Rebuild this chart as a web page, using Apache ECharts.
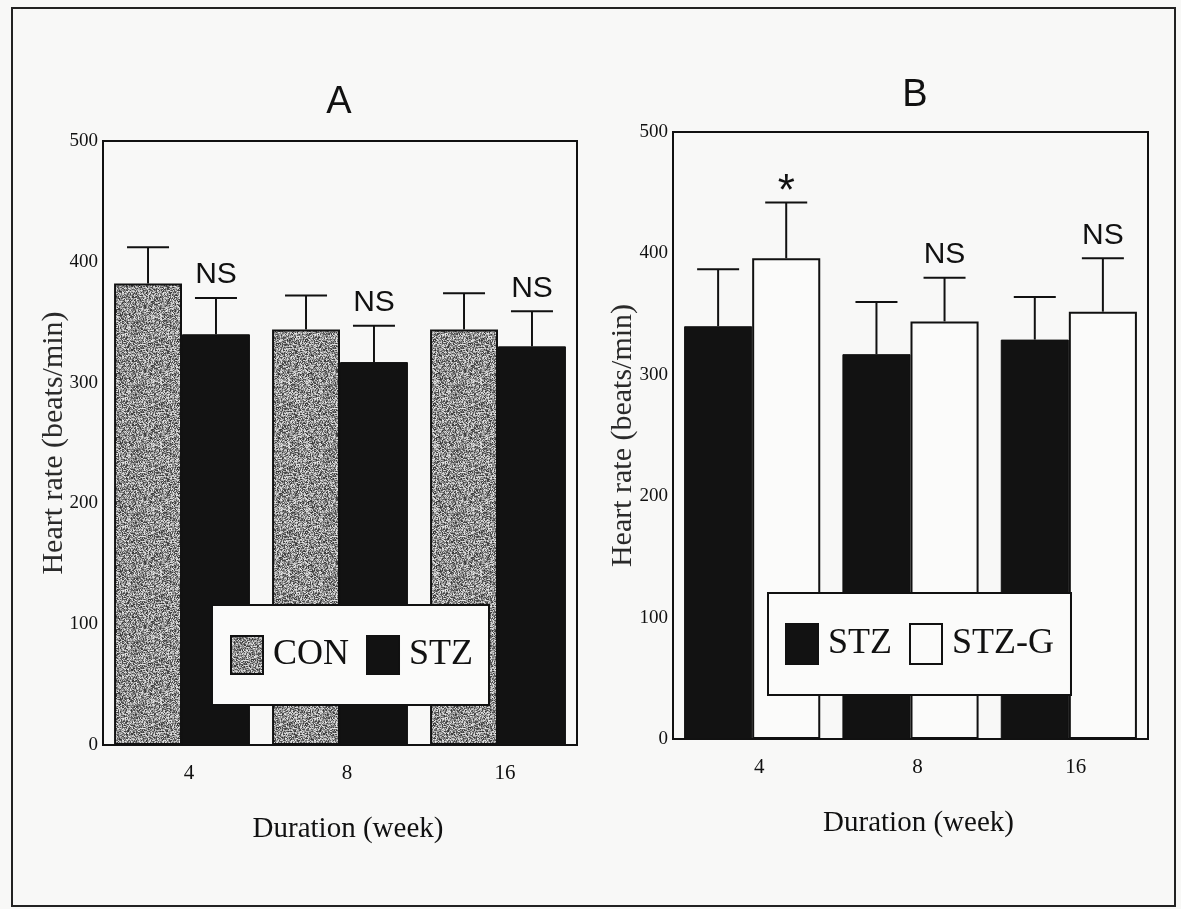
<!DOCTYPE html>
<html>
<head>
<meta charset="utf-8">
<script src="https://cdn.jsdelivr.net/npm/echarts@6/dist/echarts.min.js"></script>
<style>
html,body{margin:0;padding:0;background:#f8f8f7;}
#chart{width:1181px;height:909px;}
</style>
</head>
<body>
<div id="chart"></div>
<script>
// ---------- data ----------
const categories = ['4', '8', '16'];
// Panel A
const conA = [382, 344, 344];
const conA_sd = [30, 28, 30];
const stzA = [340, 317, 330];
const stzA_sd = [30, 30, 29];
const sigA_con = ['', '', ''];
const sigA_stz = ['NS', 'NS', 'NS'];
// Panel B
const stzB = [340, 317, 329];
const stzB_sd = [47, 43, 35];
const stzgB = [396, 344, 352];
const stzgB_sd = [46, 36, 44];
const sigB_stz = ['', '', ''];
const sigB_stzg = ['*', 'NS', 'NS'];
const yMin = 0, yMax = 500, yStep = 100;

// ---------- styling helpers ----------
const SERIF = 'Liberation Serif';
const SANS = 'Liberation Sans';
const INK = '#111';
const GAP = 0.14;

function speckle() {
  const n = 64;
  const c = document.createElement('canvas');
  c.width = n; c.height = n;
  const ctx = c.getContext('2d');
  const img = ctx.createImageData(n, n);
  let s = 24681;
  for (let i = 0; i < n * n; i++) {
    s = (s * 1103515245 + 12345) & 0x7fffffff;
    const r = (s >> 13) & 255;
    const v = Math.round(50 + r * 0.72);
    img.data[i * 4] = v; img.data[i * 4 + 1] = v; img.data[i * 4 + 2] = v; img.data[i * 4 + 3] = 255;
  }
  ctx.putImageData(img, 0, 0);
  return c;
}
const conFill = { image: speckle(), repeat: 'repeat' };

function errSeries(name, means, sds, sigs, k, axisIdx) {
  return {
    type: 'custom',
    name: name + '-err',
    xAxisIndex: axisIdx, yAxisIndex: axisIdx,
    z: 5,
    silent: true,
    data: means.map((m, i) => [i, m, m + sds[i]]),
    encode: { x: 0, y: 2 },
    renderItem: function (params, api) {
      const cat = api.value(0);
      const base = api.coord([cat, api.value(1)]);
      const top = api.coord([cat, api.value(2)]);
      const catW = api.size([1, 0])[0];
      const bw = catW * (1 - GAP) / 2;
      const x = base[0] + (k - 0.5) * bw;
      const half = 21;
      const children = [
        { type: 'line', shape: { x1: x, y1: base[1], x2: x, y2: top[1] }, style: { stroke: INK, lineWidth: 2 } },
        { type: 'line', shape: { x1: x - half, y1: top[1], x2: x + half, y2: top[1] }, style: { stroke: INK, lineWidth: 2 } }
      ];
      const lab = sigs[params.dataIndex];
      if (lab) {
        const star = lab === '*';
        children.push({
          type: 'text',
          style: {
            text: lab, x: x, y: top[1] - (star ? 10 : 23),
            align: 'center', verticalAlign: 'middle',
            font: (star ? '44px' : '30px') + ' "' + SANS + '"', fill: INK
          }
        });
      }
      return { type: 'group', children: children };
    }
  };
}

function xAx(gi) {
  return {
    type: 'category', gridIndex: gi, data: categories,
    axisLine: { show: true, lineStyle: { color: INK, width: 2 } },
    axisTick: { show: false },
    axisLabel: { fontFamily: SERIF, fontSize: 21, color: INK, margin: 18, padding: [0, 0, 0, 14] },
    name: 'Duration (week)', nameLocation: 'middle', nameGap: 70,
    nameTextStyle: { fontFamily: SERIF, fontSize: 29, color: INK, padding: [0, 0, 0, 16] }
  };
}
function yAx(gi, gap) {
  return {
    type: 'value', gridIndex: gi, min: yMin, max: yMax, interval: yStep,
    axisLine: { show: true, lineStyle: { color: INK, width: 2 } },
    axisTick: { show: false },
    splitLine: { show: false },
    axisLabel: { fontFamily: SERIF, fontSize: 19, color: INK, margin: 5 },
    name: 'Heart rate (beats/min)', nameLocation: 'middle', nameGap: gap,
    nameMoveOverlap: false,
    nameTextStyle: { fontFamily: SERIF, fontSize: 30, color: '#2a2a2a' }
  };
}
function legendBox(names, left, top, ih, pad) {
  return {
    data: names, left: left, top: top, orient: 'horizontal',
    icon: 'rect', itemWidth: 32, itemHeight: ih, itemGap: 17,
    padding: pad, backgroundColor: '#fbfbfa', borderColor: INK, borderWidth: 2,
    selectedMode: false,
    textStyle: { fontFamily: SERIF, fontSize: 36, color: INK, padding: [0, 0, 0, 5] }
  };
}

const chart = echarts.init(document.getElementById('chart'), null, { renderer: 'canvas' });
chart.setOption({
  backgroundColor: '#f8f8f7',
  animation: false,
  title: [
    { text: 'A', left: 339, top: 84, textAlign: 'center', padding: 0,
      textStyle: { fontFamily: SANS, fontSize: 38, fontWeight: 'normal', color: INK } },
    { text: 'B', left: 915, top: 77, textAlign: 'center', padding: 0,
      textStyle: { fontFamily: SANS, fontSize: 38, fontWeight: 'normal', color: INK } }
  ],
  grid: [
    { left: 103, top: 141, width: 474, height: 604, show: true, borderColor: INK, borderWidth: 2, backgroundColor: 'transparent' },
    { left: 673, top: 132, width: 475, height: 607, show: true, borderColor: INK, borderWidth: 2, backgroundColor: 'transparent' }
  ],
  xAxis: [xAx(0), xAx(1)],
  yAxis: [yAx(0, 34), yAx(1, 35)],
  legend: [
    legendBox(['CON', 'STZ'], 212, 605, 38, [30, 16, 30, 18]),
    legendBox(['STZ', 'STZ-G'], 768, 593, 40, [30, 17, 30, 17])
  ],
  graphic: [
    { type: 'rect', silent: true, z: 100,
      shape: { x: 12, y: 8, width: 1163, height: 898 },
      style: { fill: 'none', stroke: '#222', lineWidth: 2 } }
  ],
  series: [
    { type: 'bar', name: 'CON', xAxisIndex: 0, yAxisIndex: 0, data: conA,
      barGap: '0%', barCategoryGap: (GAP * 100) + '%',
      itemStyle: { color: conFill, borderColor: INK, borderWidth: 2 } },
    { type: 'bar', name: 'STZ', xAxisIndex: 0, yAxisIndex: 0, data: stzA,
      barGap: '0%', barCategoryGap: (GAP * 100) + '%',
      itemStyle: { color: '#121212', borderColor: INK, borderWidth: 1 } },
    { type: 'bar', name: 'STZ', xAxisIndex: 1, yAxisIndex: 1, data: stzB,
      barGap: '0%', barCategoryGap: (GAP * 100) + '%',
      itemStyle: { color: '#121212', borderColor: INK, borderWidth: 1 } },
    { type: 'bar', name: 'STZ-G', xAxisIndex: 1, yAxisIndex: 1, data: stzgB,
      barGap: '0%', barCategoryGap: (GAP * 100) + '%',
      itemStyle: { color: '#fbfbfa', borderColor: INK, borderWidth: 2 } },
    errSeries('CON', conA, conA_sd, sigA_con, 0, 0),
    errSeries('STZ', stzA, stzA_sd, sigA_stz, 1, 0),
    errSeries('STZ', stzB, stzB_sd, sigB_stz, 0, 1),
    errSeries('STZ-G', stzgB, stzgB_sd, sigB_stzg, 1, 1)
  ]
});
</script>
</body>
</html>
